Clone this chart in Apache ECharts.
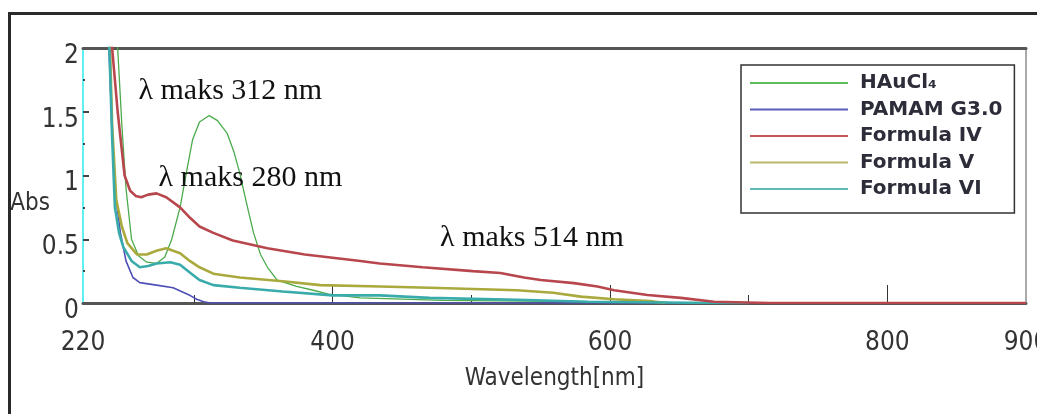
<!DOCTYPE html>
<html>
<head>
<meta charset="utf-8">
<script src="https://cdn.jsdelivr.net/npm/echarts@6/dist/echarts.min.js"></script>
<style>
html,body{margin:0;padding:0;background:#fff;}
#chart{width:1037px;height:414px;}
</style>
</head>
<body>
<div id="chart"></div>
<script>
// ---- data (wavelength nm, absorbance) ----
const wavelengthLabels = [220, 400, 600, 800, 900];
const wavelengthMajorTicks = [400, 600, 800];
const wavelengthMinorTicks = [300, 500, 700];
const absLabels = [0, 0.5, 1, 1.5, 2];

const seriesNames = ['HAuCl\u2084', 'PAMAM G3.0', 'Formula IV', 'Formula V', 'Formula VI'];

const hauCl4 = [[241,2.6],[245,2.0],[248,1.4],[251,0.9],[255,0.5],[260,0.37],[266,0.32],[273,0.31],[279,0.36],[284,0.5],[290,0.75],[295,1.05],[299,1.28],[304,1.42],[311,1.47],[317,1.43],[324,1.33],[329,1.18],[333,1.02],[338,0.78],[343,0.55],[348,0.38],[353,0.28],[360,0.18],[374,0.13],[386,0.10],[397,0.07],[420,0.04],[480,0.02],[584,0.01],[627,0.01],[650,0]];
const pamam = [[236,2.6],[238.7,2.0],[240.5,1.5],[242,1.07],[244,0.8],[247,0.55],[251,0.33],[256,0.2],[261,0.16],[273,0.14],[285,0.12],[291,0.09],[297,0.06],[302,0.03],[307,0.01],[312,0],[715,0]];
const formulaIV = [[238,2.6],[241,2.0],[245,1.5],[248,1.2],[250,1.0],[254,0.88],[258,0.84],[262,0.83],[267,0.85],[273,0.86],[280,0.83],[290,0.75],[297,0.67],[304,0.6],[314,0.55],[328,0.49],[353,0.43],[380,0.38],[420,0.33],[434,0.31],[465,0.28],[501,0.25],[521,0.235],[538,0.2],[550,0.18],[574,0.156],[591,0.13],[603,0.10],[627,0.063],[651,0.04],[675,0.01],[715,0],[900,0]];
const formulaV = [[237,2.6],[239.5,2.0],[241,1.4],[244,0.81],[248,0.6],[252,0.47],[259,0.38],[266,0.38],[273,0.41],[280,0.43],[290,0.39],[297,0.33],[304,0.28],[314,0.23],[333,0.2],[364,0.17],[391,0.14],[434,0.13],[470,0.12],[533,0.10],[559,0.08],[579,0.05],[603,0.03],[629,0.015],[640,0]];
const formulaVI = [[236.5,2.6],[239,2.0],[241,1.3],[243,0.75],[246,0.55],[249,0.44],[255,0.33],[261,0.28],[267,0.29],[273,0.31],[283,0.32],[290,0.30],[297,0.24],[304,0.18],[314,0.14],[333,0.12],[364,0.09],[400,0.06],[434,0.06],[470,0.04],[540,0.024],[584,0.01],[675,0],[700,0]];

const annotationTexts = ['\u03bb maks 312 nm', '\u03bb maks 280 nm', '\u03bb maks 514 nm'];
const annotationAnchors = [[260, 1.545], [274.5, 0.865], [477.5, 0.395]];

// ---- chart ----
const chart = echarts.init(document.getElementById('chart'), null, {renderer: 'canvas'});
const narrow = '"Liberation Sans Narrow", "DejaVu Sans Condensed", "Arial Narrow", sans-serif';
const colors = ['#4bab4b', '#4f4fb8', '#b8474d', '#a9a93d', '#3aabab'];
const legendColors = ['#5cbf5c', '#5a5abb', '#c05858', '#b9b96e', '#5fbaba'];
const widths = [1.3, 1.6, 2.6, 2.6, 2.6];
const allData = [hauCl4, pamam, formulaIV, formulaV, formulaVI];

const series = allData.map((d, i) => ({
  name: seriesNames[i],
  type: 'line',
  data: d,
  symbol: 'none',
  showSymbol: false,
  smooth: false,
  clip: true,
  lineStyle: {color: colors[i], width: widths[i]},
  itemStyle: {color: legendColors[i]},
  z: 3 + (i === 2 ? 5 : i)
}));

series[0].markPoint = {
  symbol: 'circle',
  symbolSize: 0,
  silent: true,
  itemStyle: {color: 'rgba(0,0,0,0)'},
  label: {
    show: true,
    position: 'insideBottomLeft',
    distance: 0,
    formatter: '{b}',
    fontFamily: '"Liberation Serif", "DejaVu Serif", serif',
    fontSize: 30,
    color: '#111'
  },
  data: annotationTexts.map((t, i) => ({name: t, coord: annotationAnchors[i]}))
};

const option = {
  backgroundColor: '#fff',
  animation: false,
  grid: {left: 83, right: 11, top: 48, bottom: 111, outerBoundsMode: 'none', containLabel: false},
  legend: {
    show: true,
    orient: 'vertical',
    left: 741,
    top: 65,
    padding: [8, 12, 14, 9],
    icon: 'rect',
    itemWidth: 98,
    itemHeight: 2,
    itemGap: 6.5,
    itemTextGap: 12,
    borderColor: '#333',
    borderWidth: 1.5,
    backgroundColor: '#fff',
    data: seriesNames,
    textStyle: {fontFamily: '"DejaVu Sans", sans-serif', fontWeight: 'bold', fontSize: 20, lineHeight: 20, color: '#2d2d3a', padding: [0, 0, 0, 7]}
  },
  xAxis: [
    {
      type: 'value', min: 220, max: 900, position: 'bottom',
      name: 'Wavelength[nm]', nameLocation: 'middle', nameGap: 64, nameMoveOverlap: false,
      nameTextStyle: {fontFamily: narrow, fontSize: 24, color: '#333'},
      axisLine: {show: true, onZero: false, lineStyle: {color: '#555', width: 3}},
      axisTick: {show: true, inside: true, length: 18, customValues: wavelengthMajorTicks, lineStyle: {color: '#333', width: 1}},
      axisLabel: {show: true, customValues: wavelengthLabels, margin: 27, fontFamily: narrow, fontSize: 26, color: '#333'},
      splitLine: {show: false}
    },
    {
      type: 'value', min: 220, max: 900, position: 'bottom',
      axisLine: {show: false},
      axisTick: {show: true, inside: true, length: 8, customValues: wavelengthMinorTicks, lineStyle: {color: '#333', width: 1}},
      axisLabel: {show: false},
      splitLine: {show: false}
    },
    {
      type: 'value', min: 220, max: 900, position: 'top',
      axisLine: {show: true, onZero: false, lineStyle: {color: '#555', width: 3}},
      axisTick: {show: false}, axisLabel: {show: false}, splitLine: {show: false}
    }
  ],
  yAxis: [
    {
      type: 'value', min: 0, max: 2, interval: 0.5, position: 'left',
      name: 'Abs', nameLocation: 'middle', nameRotate: 0, nameGap: 33, nameMoveOverlap: false,
      nameTextStyle: {fontFamily: narrow, fontSize: 24, color: '#333', align: 'right', verticalAlign: 'top', padding: [16, 0, 0, 0]},
      axisLine: {show: true, onZero: false, lineStyle: {color: '#5ff0f0', width: 2}},
      axisTick: {show: true, inside: true, length: 6, customValues: [0.5, 1, 1.5], lineStyle: {color: '#444', width: 2}},
      minorTick: {show: true, splitNumber: 2, length: 2, lineStyle: {color: '#444', width: 2}},
      axisLabel: {show: true, customValues: absLabels, margin: 4, fontFamily: narrow, fontSize: 26, color: '#333', verticalAlign: 'top', lineHeight: 16},
      splitLine: {show: false}
    },
    {
      type: 'value', min: 0, max: 2, position: 'right',
      axisLine: {show: true, onZero: false, lineStyle: {color: '#aaa', width: 2}},
      axisTick: {show: false}, axisLabel: {show: false}, splitLine: {show: false}
    }
  ],
  series: series,
  graphic: [
    {type: 'rect', silent: true, z: -10, shape: {x: 9.5, y: 13.5, width: 1200, height: 600}, style: {fill: 'none', stroke: '#2a2a2a', lineWidth: 3}}
  ]
};
chart.setOption(option);
</script>
</body>
</html>
